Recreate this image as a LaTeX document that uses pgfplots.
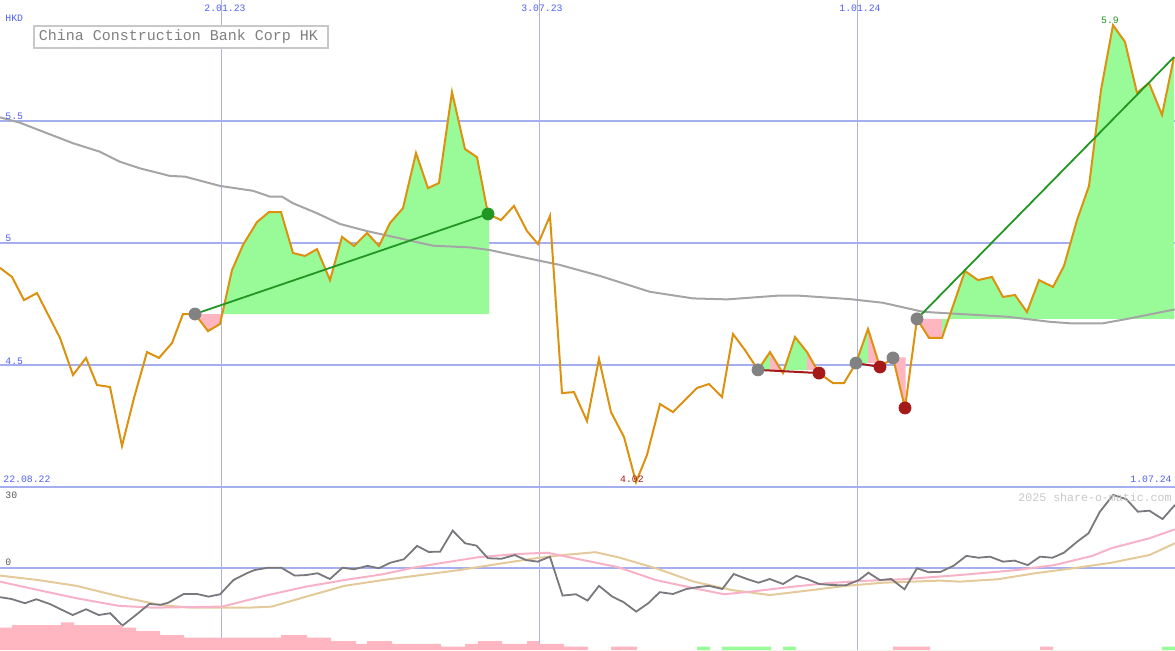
\documentclass[border=0pt]{standalone}
\usepackage{fontspec}
\setmainfont{Liberation Mono}
\usepackage{pgfplots}
\pgfplotsset{compat=1.18}
\usepackage{pgfplotstable}
\usepgfplotslibrary{fillbetween}

\definecolor{gridblue}{RGB}{165,175,240}
\definecolor{vgrid}{RGB}{175,178,228}
\definecolor{axisblue}{RGB}{120,130,235}
\definecolor{lblblue}{RGB}{80,95,245}
\definecolor{priceor}{RGB}{220,145,15}
\definecolor{magray}{RGB}{165,165,165}
\definecolor{fillgreen}{RGB}{152,251,152}
\definecolor{fillpink}{RGB}{255,182,193}
\definecolor{trendgreen}{RGB}{34,150,34}
\definecolor{sigred}{RGB}{165,25,25}
\definecolor{dotgray}{RGB}{130,130,130}
\definecolor{oscgray}{RGB}{120,120,125}
\definecolor{oscpink}{RGB}{248,178,200}
\definecolor{osctan}{RGB}{228,202,155}
\definecolor{titlegray}{RGB}{128,128,128}
\definecolor{boxgray}{RGB}{200,200,200}

% weekly close, x = chart position (22.08.22 .. 1.07.24)
\pgfplotstableread{
x y
0 4.898
12 4.861
24 4.766
37 4.795
60 4.611
73 4.459
86 4.529
97 4.418
110 4.410
122 4.168
134 4.365
147 4.553
159 4.529
172 4.590
183 4.709
195 4.709
208 4.639
220 4.668
232 4.889
243 4.992
257 5.086
269 5.127
281 5.127
293 4.959
305 4.947
317 4.975
330 4.848
342 5.025
354 4.988
367 5.041
379 4.988
390 5.082
403 5.143
416 5.369
428 5.225
439 5.246
452 5.619
465 5.385
477 5.352
488 5.119
501 5.094
514 5.152
527 5.049
538 4.996
550 5.111
562 4.385
574 4.389
587 4.270
599 4.525
611 4.307
624 4.205
636 4.020
647 4.131
660 4.340
673 4.307
687 4.365
697 4.406
709 4.422
722 4.369
733 4.627
745 4.561
758 4.480
770 4.553
783 4.467
795 4.615
807 4.553
819 4.467
833 4.426
844 4.426
856 4.508
868 4.648
880 4.492
893 4.529
905 4.324
917 4.689
929 4.611
942 4.611
965 4.885
978 4.848
992 4.861
1003 4.779
1015 4.787
1027 4.717
1039 4.848
1053 4.820
1064 4.906
1077 5.094
1089 5.234
1101 5.627
1113 5.893
1125 5.824
1137 5.615
1149 5.656
1162 5.525
1174 5.762
}\price

% moving average
\pgfplotstableread{
x y
0 5.515
20 5.493
47 5.450
73 5.409
100 5.374
120 5.333
140 5.306
170 5.275
185 5.272
220 5.234
253 5.214
270 5.190
282 5.190
293 5.163
317 5.122
340 5.078
367 5.049
400 5.019
433 4.989
470 4.982
490 4.971
540 4.927
560 4.910
600 4.865
650 4.800
693 4.773
727 4.769
777 4.784
800 4.784
850 4.770
883 4.755
923 4.718
960 4.709
1007 4.698
1050 4.677
1070 4.671
1103 4.671
1130 4.691
1175 4.728
}\mavg

% oscillator
\pgfplotstableread{
x y
0 -11.1
11.5 -11.8
24.9 -13.4
36.4 -11.9
49.8 -13.7
72.7 -17.9
86.1 -15.7
98.7 -17.9
110.2 -17.2
122.5 -21.9
135.9 -17.9
149.3 -13.7
160.7 -14.0
168.4 -13.2
183.7 -9.9
197.1 -9.9
208.6 -10.9
220.1 -10.0
233.4 -4.6
246.8 -2.0
254.5 -0.8
267.9 0.1
281.3 0.1
294.7 -2.9
306.2 -2.7
317.6 -2.0
329.9 -4.2
342.5 0.1
354 -0.5
367.4 0.8
378.9 -0.1
390.4 2.0
403.8 3.3
417.1 8.4
428.6 6.1
440.1 6.2
452.7 14.2
465 9.4
476.5 8.5
487.9 3.7
501.3 3.5
514.7 4.9
526.2 3.0
537.7 2.4
549.9 4.3
562.6 -10.5
576 -10.0
587.6 -12.4
599 -6.8
612.3 -10.9
623.6 -13.0
636.2 -16.6
648.3 -13.4
659.7 -9.2
673 -9.9
686.3 -8.0
697.6 -7.3
709 -6.8
722.3 -8.0
733.7 -2.3
747 -4.2
758.4 -5.6
769.8 -4.2
783 -6.1
796.3 -3.0
807.7 -4.3
819.1 -6.1
832.4 -6.5
845.7 -6.6
858.9 -4.6
868.4 -1.8
879.8 -4.6
891.2 -4.2
904.5 -8.1
917 -0.1
928.4 -1.6
940.5 -1.5
953.8 0.9
966.3 4.6
978.5 3.9
989.9 4.3
1003.1 2.4
1014.5 2.8
1027.8 1.1
1040 4.3
1052.5 3.9
1063.9 5.8
1077.2 10.0
1088.5 13.2
1099.9 21.4
1113.2 27.8
1126.5 26.1
1137.9 21.4
1149.3 21.8
1162.5 18.6
1175 24.0
}\osc

\pgfplotstableread{
x y
0 -5.2
38.3 -8.4
76.5 -11.5
118.6 -14.4
153 -15.1
222 -14.7
268 -10.3
306 -7.1
344.4 -4.6
382.7 -2.4
413.3 0.1
440 1.8
478.4 4.1
516.6 5.3
547.3 5.8
574 3.7
618 0.3
655.9 -4.6
693.9 -7.7
724.2 -10.0
750.8 -9.0
788.7 -7.3
826.7 -5.8
864.6 -4.9
902.6 -4.3
959.5 -2.7
1016.4 -0.8
1054.4 1.1
1092.3 4.6
1111.3 7.5
1149.3 11.3
1175 14.7
}\oscpinkline

\pgfplotstableread{
x y
0 -2.9
38.3 -4.6
76.5 -6.8
122.5 -11.1
160.7 -14.1
191.4 -15.1
248.8 -15.1
271.7 -14.7
306.2 -10.9
344.4 -6.8
382.7 -4.6
421 -2.7
459.2 -0.8
497.5 1.5
535.8 3.7
562.6 4.9
595.2 6.0
618 4.1
655.9 -0.1
693.9 -5.2
731.8 -8.4
769.8 -10.3
807.7 -8.6
845.7 -6.8
883.6 -5.6
940.5 -4.8
959.5 -5.2
997.5 -4.3
1035.4 -2.0
1073.4 -0.1
1111.3 2.0
1149.3 4.9
1175 9.4
}\osctanline

\pgfplotsset{
  panel/.style={
    scale only axis, width=587.5pt,
    xmin=0, xmax=1175,
    axis line style={draw=none},
    tick style={draw=none},
    xticklabels={}, yticklabels={},
    extra x tick labels={}, extra y tick labels={},
    xtick={221,857},
    extra x ticks={539},
    xmajorgrids, ymajorgrids,
    x grid style={color=vgrid, line width=0.5pt},
    extra x tick style={grid style={color=gridblue, line width=1pt}},
  },
}

\newcommand{\lbl}{\fontsize{4.9}{5.5}\selectfont}

\begin{document}
\begin{tikzpicture}

% ---------- lower panel: oscillator ----------
\begin{axis}[panel, at={(0,0)}, anchor=south west,
  height=81.5pt, ymin=-31.2, ymax=30.8,
  ytick={0},
  y grid style={color=gridblue, line width=1pt},
]
\addplot[color=osctan, line width=1pt] table {\osctanline};
\addplot[color=oscpink, line width=1pt] table {\oscpinkline};
\addplot[color=oscgray, line width=0.9pt] table {\osc};
\node[font=\lbl, text=black!65, anchor=west, inner sep=0pt] at (axis cs:5,27.8) {30};
\node[font=\lbl, text=black!65, anchor=west, inner sep=0pt] at (axis cs:5,2.3) {0};
\node[font=\lbl, text=black!65, anchor=west, inner sep=0pt] at (axis cs:5,-28.1) {-30};
\node[font=\fontsize{5.8}{6.5}\selectfont, text=black!22, anchor=east, inner sep=0pt] at (axis cs:1172,27.0) {2025 share-o-matic.com};
\end{axis}

% ---------- lower panel: histogram ----------
\begin{axis}[at={(0,0)}, anchor=south west, scale only axis,
  width=587.5pt, height=81.5pt, xmin=0, xmax=1175, ymin=0, ymax=62,
  hide axis]
\addplot[ybar interval, fill=fillpink, draw=none] coordinates {
  (0,8.5) (12,9.5) (61,10.5) (74,9.5) (122,8.5) (136,7.2) (160,5.7)
  (184,4.7) (281,5.7) (307,4.7) (331,3.4) (356,2.3) (367,3.4) (392,2.3)
  (441,1.3) (465,2.3) (478,3.4) (502,2.3) (527,3.4) (539,2.3) (564,1.3)
  (588,0) (611,1.3) (637,0) (893,1.3) (930,0) (1040,1.3) (1053,0) (1175,0)};
\addplot[ybar interval, fill=fillgreen, draw=none] coordinates {
  (697,1.3) (710,0) (722,1.3) (771,0) (783,1.3) (796,0) (1162,1.3) (1175,0)};
\end{axis}

% ---------- main panel: price ----------
\begin{axis}[panel, at={(0,81.5pt)}, anchor=south west,
  height=243.5pt, ymin=4.0, ymax=5.996,
  ytick={4.5,5,5.5},
  y grid style={color=gridblue, line width=1.1pt},
  extra y ticks={4.0},
  extra y tick style={grid style={color=axisblue, line width=1.3pt}},
]
\addplot[draw=none, name path=price, forget plot] table {\price};
\addplot[draw=none, name path=b1] coordinates {(195,4.709) (489,4.709)};
\addplot[draw=none, name path=b2] coordinates {(758,4.479) (819,4.479)};
\addplot[draw=none, name path=b3] coordinates {(856,4.508) (880,4.508)};
\addplot[draw=none, name path=b4] coordinates {(893,4.531) (906,4.531)};
\addplot[draw=none, name path=b5] coordinates {(917,4.689) (1174,4.689)};

\addplot[fill=fillpink]  fill between[of=price and b1, soft clip={domain=195:222}];
\addplot[fill=fillgreen] fill between[of=price and b1, soft clip={domain=222:489}];
\addplot[fill=fillgreen] fill between[of=price and b2, soft clip={domain=758:770}];
\addplot[fill=fillpink]  fill between[of=price and b2, soft clip={domain=770:783}];
\addplot[fill=fillgreen] fill between[of=price and b2, soft clip={domain=783:807}];
\addplot[fill=fillpink]  fill between[of=price and b2, soft clip={domain=807:819}];
\addplot[fill=fillgreen] fill between[of=price and b3, soft clip={domain=856:868}];
\addplot[fill=fillpink]  fill between[of=price and b3, soft clip={domain=868:880}];
\addplot[fill=fillpink]  fill between[of=price and b4, soft clip={domain=893:905.5}];
\addplot[fill=fillpink]  fill between[of=price and b5, soft clip={domain=917:942}];
\addplot[fill=fillgreen] fill between[of=price and b5, soft clip={domain=942:1174}];

\addplot[color=magray, line width=1pt] table {\mavg};

\addplot[only marks, mark=*, mark size=3pt, color=dotgray]
  coordinates {(195,4.709) (758,4.480) (856,4.508) (893,4.529) (917,4.689)};

\addplot[color=priceor, line width=1pt] table {\price};

\addplot[color=trendgreen, line width=0.9pt] coordinates {(195,4.709) (488,5.119)};
\addplot[color=trendgreen, line width=0.9pt] coordinates {(917,4.689) (1174,5.762)};
\addplot[color=sigred, line width=1pt] coordinates {(758,4.480) (819,4.467)};
\addplot[color=sigred, line width=1pt] coordinates {(856,4.508) (880,4.492)};

\addplot[only marks, mark=*, mark size=3pt, color=trendgreen] coordinates {(488,5.119)};
\addplot[only marks, mark=*, mark size=3pt, color=sigred]
  coordinates {(819,4.467) (880,4.492) (905,4.324)};

% labels
\node[font=\lbl, text=lblblue, anchor=west, inner sep=0pt] at (axis cs:5,5.922) {HKD};
\node[font=\lbl, text=lblblue, anchor=west, inner sep=0pt] at (axis cs:5,5.520) {5.5};
\node[font=\lbl, text=lblblue, anchor=west, inner sep=0pt] at (axis cs:5,5.020) {5};
\node[font=\lbl, text=lblblue, anchor=west, inner sep=0pt] at (axis cs:5,4.516) {4.5};
\node[font=\lbl, text=lblblue, anchor=west, inner sep=0pt] at (axis cs:3,4.033) {22.08.22};
\node[font=\lbl, text=lblblue, anchor=east, inner sep=0pt] at (axis cs:1172,4.033) {1.07.24};
\node[font=\lbl, text=lblblue, inner sep=0pt] at (axis cs:225,5.963) {2.01.23};
\node[font=\lbl, text=lblblue, inner sep=0pt] at (axis cs:542,5.963) {3.07.23};
\node[font=\lbl, text=lblblue, inner sep=0pt] at (axis cs:860,5.963) {1.01.24};
\node[font=\lbl, text=sigred, inner sep=0pt] at (axis cs:632,4.033) {4.02};
\node[font=\lbl, text=trendgreen, inner sep=0pt] at (axis cs:1110,5.912) {5.9};
\node[font=\fontsize{7.5}{9}\selectfont, text=titlegray, draw=boxgray, line width=1pt,
  fill=white, anchor=north west, inner xsep=2.5pt, inner ysep=2pt]
  at (axis cs:33,5.894) {\makebox[142pt][l]{China\hspace{0.6em}Construction\hspace{0.6em}Bank\hspace{0.6em}Corp\hspace{0.6em}HK}};
\end{axis}

\pgfresetboundingbox
\path[use as bounding box] (0,0) rectangle (587.5pt,325pt);
\end{tikzpicture}
\end{document}
